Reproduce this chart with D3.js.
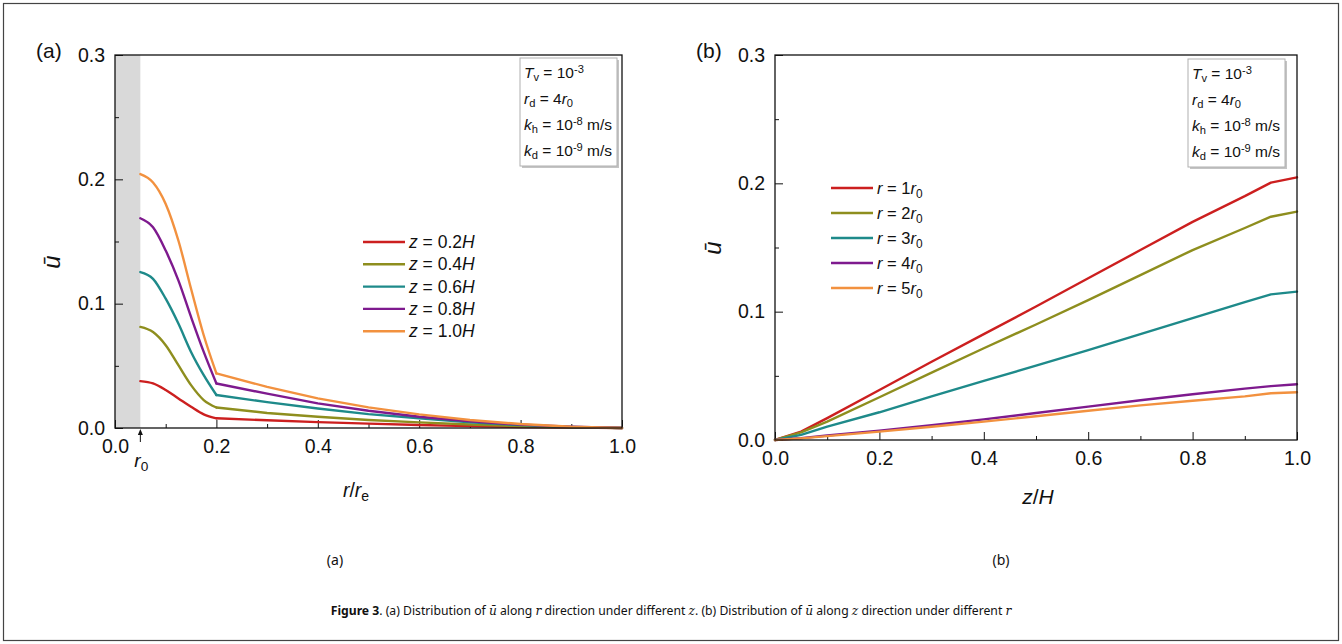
<!DOCTYPE html>
<html>
<head>
<meta charset="utf-8">
<script src="https://cdn.jsdelivr.net/npm/d3@7"></script>
<style>
  body { margin: 0; background: #fff; }
  svg { display: block; }
</style>
</head>
<body>
<svg id="fig" width="1342" height="644"></svg>
<script>
// ---- data ----
// (a) u-bar along r/re for several depths
const rRatio = [0.05, 0.075, 0.1, 0.125, 0.15, 0.175, 0.2, 0.3, 0.4, 0.5, 0.6, 0.7, 0.8, 0.9, 1.0];
const uZ02 = [0.0377, 0.0358, 0.0305, 0.0238, 0.0171, 0.011, 0.0078, 0.0062, 0.0047, 0.0035, 0.0024, 0.0015, 0.0008, 0.0003, 0];
const uZ04 = [0.0813, 0.0772, 0.0666, 0.0505, 0.0345, 0.0225, 0.0165, 0.0121, 0.009, 0.0064, 0.0045, 0.0028, 0.0014, 0.0005, 0];
const uZ06 = [0.1254, 0.120, 0.104, 0.084, 0.0612, 0.0425, 0.0265, 0.0208, 0.0157, 0.0112, 0.0078, 0.0046, 0.0023, 0.0008, 0];
const uZ08 = [0.1687, 0.1614, 0.1427, 0.1187, 0.0893, 0.0612, 0.0358, 0.0276, 0.0198, 0.0139, 0.0091, 0.0054, 0.0027, 0.001, 0];
const uZ10 = [0.2042, 0.1975, 0.1802, 0.1508, 0.112, 0.0746, 0.0439, 0.0331, 0.0238, 0.0166, 0.011, 0.0064, 0.0032, 0.001, 0];
const zLabels = ["0.2", "0.4", "0.6", "0.8", "1.0"];

// (b) u-bar along z/H for several radii
const zRatio = [0, 0.05, 0.1, 0.2, 0.3, 0.4, 0.5, 0.6, 0.7, 0.8, 0.9, 0.95, 1.0];
const uR1 = [0, 0.0065, 0.017, 0.039, 0.061, 0.0825, 0.104, 0.126, 0.148, 0.170, 0.190, 0.2006, 0.2047];
const uR2 = [0, 0.006, 0.0143, 0.0333, 0.0525, 0.0715, 0.090, 0.109, 0.1285, 0.148, 0.1652, 0.174, 0.178];
const uR3 = [0, 0.004, 0.0104, 0.0216, 0.034, 0.046, 0.058, 0.070, 0.0825, 0.095, 0.1075, 0.1135, 0.1156];
const uR4 = [0, 0.0015, 0.0035, 0.0073, 0.0115, 0.0161, 0.021, 0.026, 0.031, 0.0356, 0.040, 0.042, 0.0434];
const uR5 = [0, 0.0013, 0.003, 0.0065, 0.0103, 0.0143, 0.0185, 0.0228, 0.027, 0.0306, 0.034, 0.0364, 0.0372];
const rLabels = ["1", "2", "3", "4", "5"];

const r0 = 0.05;
const majorX = [0, 0.2, 0.4, 0.6, 0.8, 1.0];
const minorX = [0.1, 0.3, 0.5, 0.7, 0.9];
const majorY = [0, 0.1, 0.2, 0.3];
const minorY = [0.05, 0.15, 0.25];

const colors = ["#cc1f1f", "#8e8e1e", "#1e8a8a", "#7e1a8e", "#f2913f"];
const ARIAL = "'Liberation Sans', Arimo, Arial, sans-serif";
const SERIF = "'DejaVu Serif', 'Liberation Serif', serif";

const svg = d3.select("#fig");

// outer frame
svg.append("rect").attr("x", 3.5).attr("y", 3.5).attr("width", 1335).attr("height", 637)
  .attr("fill", "none").attr("stroke", "#444").attr("stroke-width", 1.2);

// writes text made of parts: {t, i, b, f, sub, sup}
function rich(textSel, parts) {
  parts.forEach(p => {
    const ts = textSel.append("tspan").text(p.t);
    if (p.i) ts.style("font-style", "italic");
    if (p.b) ts.style("font-weight", "bold");
    if (p.f) ts.style("font-family", p.f);
    if (p.sub) ts.attr("baseline-shift", "-30%").style("font-size", "0.72em");
    if (p.sup) ts.attr("baseline-shift", "42%").style("font-size", "0.72em");
  });
  return textSel;
}

function label(g, xx, yy, size) {
  return g.append("text").attr("x", xx).attr("y", yy)
    .style("font-family", ARIAL).style("font-size", size).style("fill", "#111");
}

function drawPanel(o) {
  const g = svg.append("g");
  const x = d3.scaleLinear().domain([0, 1]).range([o.left, o.right]);
  const y = d3.scaleLinear().domain([0, 0.3]).range([o.bottom, o.top]);

  if (o.shade) {
    g.append("rect").attr("x", x(0)).attr("y", y(0.3))
      .attr("width", x(r0) - x(0)).attr("height", y(0) - y(0.3))
      .attr("fill", "#d9d9d9");
  }

  // axes, ticks pointing inward
  g.append("g").attr("transform", `translate(0,${o.bottom})`)
    .call(d3.axisBottom(x).tickValues(majorX).tickSize(-8).tickPadding(11).tickFormat(d3.format(".1f")));
  g.append("g").attr("transform", `translate(0,${o.bottom})`)
    .call(d3.axisBottom(x).tickValues(minorX).tickSize(-4).tickFormat(""));
  g.append("g").attr("transform", `translate(${o.left},0)`)
    .call(d3.axisLeft(y).tickValues(majorY).tickSize(-8).tickPadding(10).tickFormat(d3.format(".1f")));
  g.append("g").attr("transform", `translate(${o.left},0)`)
    .call(d3.axisLeft(y).tickValues(minorY).tickSize(-4).tickFormat(""));
  g.selectAll(".domain").remove();
  g.selectAll(".tick line").attr("stroke", "#111").attr("stroke-width", 1);
  g.selectAll(".tick text").attr("font-family", null).attr("font-size", null)
    .style("font-family", ARIAL).style("font-size", "19.5px").attr("fill", "#111");

  // series
  o.series.forEach((vals, k) => {
    const pts = o.xs.map((v, i) => [v, vals[i]]);
    const segs = o.split != null
      ? [[pts.filter(p => p[0] <= o.split), d3.curveMonotoneX], [pts.filter(p => p[0] >= o.split), d3.curveLinear]]
      : [[pts, d3.curveLinear]];
    segs.forEach(([sp, cv]) => {
      g.append("path").datum(sp)
        .attr("fill", "none").attr("stroke", colors[k]).attr("stroke-width", 2.4)
        .attr("stroke-linejoin", "round").attr("stroke-linecap", "round")
        .attr("d", d3.line().x(p => x(p[0])).y(p => y(p[1])).curve(cv));
    });
  });

  // plot frame
  g.append("rect").attr("x", o.left).attr("y", o.top)
    .attr("width", o.right - o.left).attr("height", o.bottom - o.top)
    .attr("fill", "none").attr("stroke", "#111").attr("stroke-width", 1.3);

  // panel tag
  label(g, o.left - 79, o.top + 3, "21px").text(o.tag);

  // y title
  g.append("text").attr("transform", `translate(${o.ytx},${o.yty}) rotate(-90)`)
    .attr("text-anchor", "middle").style("font-family", ARIAL).style("font-size", "24px")
    .style("font-style", "italic").style("fill", "#111").text("\u016B");

  // x title
  rich(label(g, o.xtx, o.xty, o.xtSize).attr("text-anchor", "middle"), o.xTitle);

  // legend
  o.legendLabels.forEach((lab, k) => {
    const ly = o.legY + k * o.legDy;
    g.append("line").attr("x1", o.legX).attr("x2", o.legX + 42).attr("y1", ly).attr("y2", ly)
      .attr("stroke", colors[k]).attr("stroke-width", 2.4);
    rich(label(g, o.legX + 46, ly + 6, o.legSize), o.legendParts(lab));
  });

  // parameter box
  const bx = o.boxX, by = o.boxY, bw = 97, bh = 108;
  g.append("rect").attr("x", bx + 2).attr("y", by + 2).attr("width", bw).attr("height", bh).attr("fill", "#c4c4c4");
  g.append("rect").attr("x", bx).attr("y", by).attr("width", bw).attr("height", bh)
    .attr("fill", "#fff").attr("stroke", "#b0b0b0").attr("stroke-width", 1);
  const params = [
    [{ t: "T", i: 1 }, { t: "v", sub: 1 }, { t: " = 10" }, { t: "-3", sup: 1 }],
    [{ t: "r", i: 1 }, { t: "d", sub: 1 }, { t: " = 4" }, { t: "r", i: 1 }, { t: "0", sub: 1 }],
    [{ t: "k", i: 1 }, { t: "h", sub: 1 }, { t: " = 10" }, { t: "-8", sup: 1 }, { t: " m/s" }],
    [{ t: "k", i: 1 }, { t: "d", sub: 1 }, { t: " = 10" }, { t: "-9", sup: 1 }, { t: " m/s" }]
  ];
  params.forEach((p, i) => rich(label(g, bx + 4, by + 20 + i * 26, "15.5px"), p));
  return { g, x, y };
}

const pa = drawPanel({
  left: 115, right: 622, top: 55, bottom: 428, tag: "(a)", shade: true,
  xs: rRatio, series: [uZ02, uZ04, uZ06, uZ08, uZ10], split: 0.2,
  ytx: 60, yty: 262,
  xTitle: [{ t: "r", i: 1 }, { t: "/" }, { t: "r", i: 1 }, { t: "e", sub: 1 }], xtx: 356, xty: 497, xtSize: "19.5px",
  legendLabels: zLabels, legX: 363, legY: 242, legDy: 22.3, legSize: "17.5px",
  legendParts: l => [{ t: "z", i: 1 }, { t: " = " + l }, { t: "H", i: 1 }],
  boxX: 520, boxY: 58
});

// r0 marker under panel (a)
pa.g.append("line").attr("x1", pa.x(r0)).attr("x2", pa.x(r0)).attr("y1", 442).attr("y2", 432)
  .attr("stroke", "#111").attr("stroke-width", 1);
pa.g.append("path").attr("d", `M${pa.x(r0) - 2.5},435 L${pa.x(r0)},429 L${pa.x(r0) + 2.5},435 Z`).attr("fill", "#111");
rich(label(pa.g, pa.x(r0) - 6, 467, "19px"), [{ t: "r", i: 1 }, { t: "0", sub: 1 }]);

drawPanel({
  left: 775, right: 1297, top: 55, bottom: 440, tag: "(b)", shade: false,
  xs: zRatio, series: [uR1, uR2, uR3, uR4, uR5], split: null,
  ytx: 721, yty: 248,
  xTitle: [{ t: "z", i: 1 }, { t: "/" }, { t: "H", i: 1 }], xtx: 1038, xty: 504, xtSize: "21px",
  legendLabels: rLabels, legX: 831, legY: 188, legDy: 25, legSize: "16.5px",
  legendParts: l => [{ t: "r", i: 1 }, { t: " = " + l }, { t: "r", i: 1 }, { t: "0", sub: 1 }],
  boxX: 1188, boxY: 59
});

// sub captions and figure caption
const cap = svg.append("g").style("font-family", "'Noto Sans', 'Open Sans', sans-serif").style("fill", "#111");
cap.append("text").attr("x", 335).attr("y", 565).attr("text-anchor", "middle").style("font-size", "14px").text("(a)");
cap.append("text").attr("x", 1001).attr("y", 565).attr("text-anchor", "middle").style("font-size", "14px").text("(b)");
rich(cap.append("text").attr("x", 671).attr("y", 615).attr("text-anchor", "middle").style("font-size", "12.2px"), [
  { t: "Figure 3", b: 1 }, { t: ". (a) Distribution of " }, { t: "\u016B", i: 1, f: SERIF }, { t: "  along " },
  { t: "r", i: 1, f: SERIF }, { t: "  direction under different " }, { t: "z", i: 1, f: SERIF }, { t: ". (b) Distribution of " },
  { t: "\u016B", i: 1, f: SERIF }, { t: "  along " }, { t: "z", i: 1, f: SERIF }, { t: "  direction under different " },
  { t: "r", i: 1, f: SERIF }
]);
</script>
</body>
</html>
